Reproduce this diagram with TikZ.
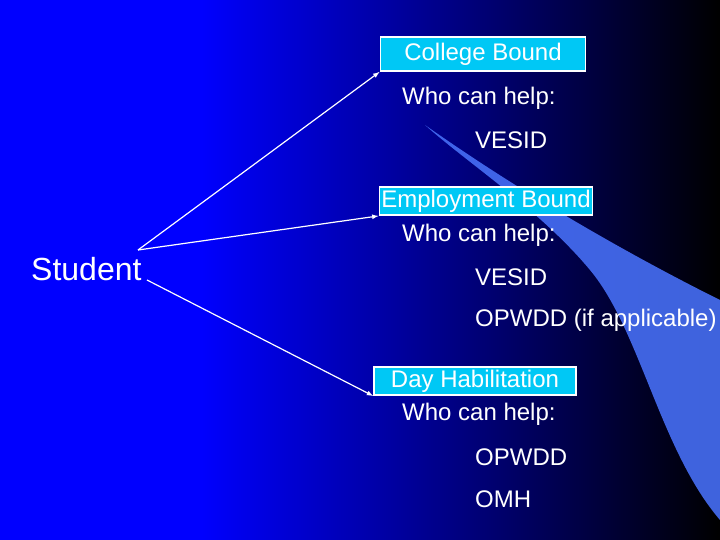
\documentclass[tikz,border=0pt]{standalone}
\usepackage{fontspec}
\setmainfont{Liberation Sans}
\definecolor{swoosh}{RGB}{70,110,245}
\definecolor{boxc}{RGB}{0,200,245}
\begin{document}
\begin{tikzpicture}[x=1pt,y=-1pt,
  box/.style={draw=white,line width=1.5pt,fill=boxc,text=white,inner xsep=4pt,inner ysep=3pt,font=\fontsize{24}{26}\selectfont},
  txt/.style={text=white,font=\fontsize{24}{26}\selectfont,anchor=west,inner sep=0pt},
  conn/.style={draw=white,line width=1.2pt,-latex}]
\fill[blue] (0,0) rectangle (200,540);
\shade[left color=blue,right color=black] (199,0) rectangle (720,540);
\useasboundingbox (0,0) rectangle (720,540);
\fill[swoosh,opacity=0.9] (425,125) .. controls (560,220) and (690,285) .. (720,300) -- (720,520) .. controls (660,450) and (640,330) .. (590,270) .. controls (540,210) and (470,165) .. (425,125) -- cycle;
\node[box,inner xsep=24pt,inner ysep=6pt] (cb) at (483,54) {College Bound};
\node[txt] (w1) at (402,98) {Who can help:};
\node[txt] (v1) at (475,140) {VESID};
\node[box,inner xsep=2pt] (eb) at (486,201) {Employment Bound};
\node[txt] (w2) at (402,235) {Who can help:};
\node[txt] (v2) at (475,277) {VESID};
\node[txt] (o2) at (475,320) {OPWDD (if applicable)};
\node[box,inner xsep=17pt] (dh) at (475,381) {Day Habilitation};
\node[txt] (w3) at (402,414) {Who can help:};
\node[txt] (o3) at (475,457) {OPWDD};
\node[txt] (m3) at (475,499) {OMH};
\node[txt,font=\fontsize{32}{34}\selectfont] (st) at (31,269) {Student};
\coordinate (s1) at (138,250);
\coordinate (s2) at (147,280);
\draw[conn] (s1) -- (cb.south west);
\draw[conn] (s1) -- (eb.south west);
\draw[conn] (s2) -- (dh.south west);
\end{tikzpicture}
\end{document}
